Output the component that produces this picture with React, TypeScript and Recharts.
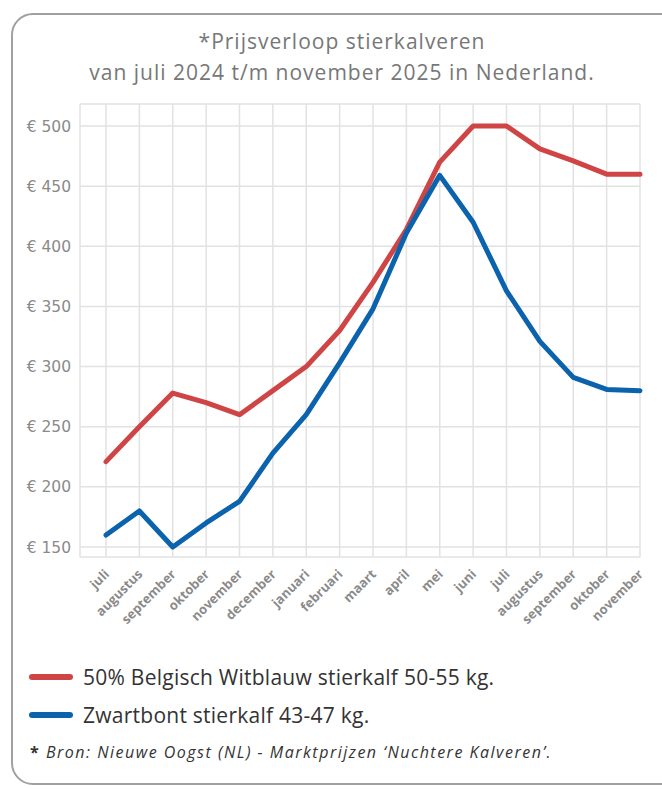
import React from "react";
import { LineChart, Line, XAxis, YAxis, CartesianGrid } from "recharts";

const months = [
  "juli", "augustus", "september", "oktober", "november", "december",
  "januari", "februari", "maart", "april", "mei", "juni",
  "juli", "augustus", "september", "oktober", "november",
];
const witblauw = [221, 250, 278, 270, 260, 280, 300, 330, 370, 414, 470, 500, 500, 481, 471, 460, 460];
const zwartbont = [160, 180, 150, 170, 188, 228, 260, 303, 348, 411, 459, 420, 363, 321, 291, 281, 280];
const yTicks = [150, 200, 250, 300, 350, 400, 450, 500];

const seriesNames = [
  "50% Belgisch Witblauw stierkalf 50-55 kg.",
  "Zwartbont stierkalf 43-47 kg.",
];
const RED = "#cf4545";
const BLUE = "#0b62ad";
const FONT = "'Open Sans', Lato, sans-serif";

const data = months.map((m, i) => ({
  key: `${m}-${i}`,
  label: m,
  wb: witblauw[i],
  zb: zwartbont[i],
}));

const XTick = (props: any) => {
  const { x, y, payload } = props;
  const label = months[payload.index] ?? payload.value;
  return (
    <g transform={`translate(${x + 4},${y + 10})`}>
      <text
        x={0}
        y={0}
        textAnchor="end"
        transform="rotate(-45)"
        fontSize={13}
        fontWeight={700}
        fill="#8a8a8a"
        fontFamily={FONT}
      >
        {label}
      </text>
    </g>
  );
};

export default function App() {
  return (
    <div style={{ position: "absolute", left: 0, top: 0, width: 662, height: 789, overflow: "hidden", background: "#fff" }}>
      <div
        style={{
          position: "absolute",
          left: 11,
          top: 13,
          width: 680,
          height: 772,
          border: "2px solid #a0a0a0",
          borderRadius: 22,
          boxSizing: "border-box",
        }}
      />
      <div
        style={{
          position: "absolute",
          left: 0,
          top: 26,
          width: 684,
          textAlign: "center",
          fontFamily: FONT,
          fontSize: 21,
          letterSpacing: 1,
          lineHeight: "31px",
          color: "#777",
        }}
      >
        *Prijsverloop stierkalveren
        <br />
        van juli 2024 t/m november 2025 in Nederland.
      </div>

      <div style={{ position: "absolute", left: 0, top: 0 }}>
        <LineChart width={662} height={640} data={data} margin={{ top: 104, right: 22, bottom: 0, left: 0 }}>
          <CartesianGrid stroke="#e2e2e2" strokeWidth={1.5} />
          <XAxis
            dataKey="key"
            interval={0}
            tick={<XTick />}
            tickLine={false}
            axisLine={false}
            height={83}
            padding={{ left: 26, right: 0 }}
          />
          <YAxis
            domain={[141.7, 518.3]}
            ticks={yTicks}
            width={80}
            tickLine={false}
            axisLine={false}
            tickSize={0}
            tickMargin={9}
            tickFormatter={(v: number) => `€ ${v}`}
            tick={{ fontSize: 15.5, fill: "#8a8a8a", fontFamily: "'DejaVu Sans', sans-serif" }}
          />
          <Line type="linear" dataKey="wb" stroke={RED} strokeWidth={5} dot={false} strokeLinecap="round" strokeLinejoin="round" isAnimationActive={false} />
          <Line type="linear" dataKey="zb" stroke={BLUE} strokeWidth={5} dot={false} strokeLinecap="round" strokeLinejoin="round" isAnimationActive={false} />
        </LineChart>
      </div>

      <div style={{ position: "absolute", left: 29, top: 658, fontFamily: FONT, color: "#333" }}>
        {[RED, BLUE].map((c, i) => (
          <div key={i} style={{ display: "flex", alignItems: "center", height: 38 }}>
            <div style={{ width: 44, height: 6, borderRadius: 3, background: c, marginRight: 10 }} />
            <span style={{ fontSize: 21, letterSpacing: 0.25 }}>{seriesNames[i]}</span>
          </div>
        ))}
      </div>
      <div
        style={{
          position: "absolute",
          left: 30,
          top: 741,
          fontFamily: FONT,
          fontSize: 16,
          letterSpacing: 1.5,
          color: "#333",
        }}
      >
        <b>*</b> <i>Bron: Nieuwe Oogst (NL) - Marktprijzen ‘Nuchtere Kalveren’.</i>
      </div>
    </div>
  );
}
